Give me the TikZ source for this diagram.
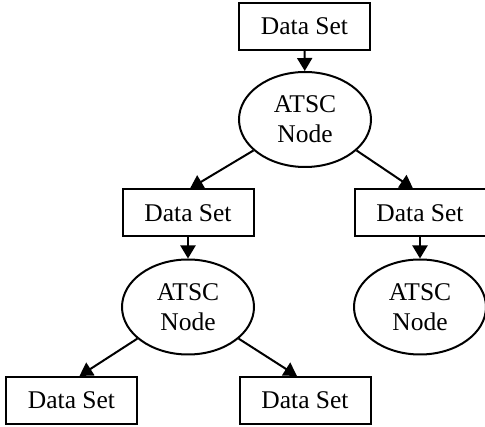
\documentclass[tikz,border=0pt]{standalone}
\usepackage{fontspec}
\setmainfont{Liberation Serif}
\usetikzlibrary{shapes.geometric,arrows.meta}
\begin{document}
\begin{tikzpicture}[x=1pt,y=-1pt,
  every node/.style={font=\fontsize{25.5}{30}\selectfont, line width=2pt, inner sep=0pt},
  dsbox/.style={draw, rectangle, minimum width=131pt, minimum height=47pt},
  atsc/.style={draw, ellipse, minimum width=132pt, minimum height=95pt, align=center},
  link/.style={line width=2pt, -{Triangle[length=13pt,width=15pt]}}]
\useasboundingbox (0,0) rectangle (485,427);
\node[dsbox] (b1) at (304.5,26.5) {Data Set};
\node[atsc] (e1) at (305,119.5) {ATSC\\Node};
\node[dsbox] (b2) at (188,213) {Data Set};
\node[dsbox] (b3) at (420,213) {Data Set};
\node[atsc] (e2) at (188,307) {ATSC\\Node};
\node[atsc] (e3) at (420,307) {ATSC\\Node};
\node[dsbox] (b4) at (71.5,400.5) {Data Set};
\node[dsbox] (b5) at (305,400.5) {Data Set};
\draw[link] (b1) -- (e1);
\draw[link] (e1.211) -- ([xshift=2pt]b2.north);
\draw[link] (e1.329) -- ([xshift=-7pt]b3.north);
\draw[link] (b2) -- (e2);
\draw[link] (b3) -- (e3);
\draw[link] (e2.212) -- ([xshift=8pt]b4.north);
\draw[link] (e2.328) -- ([xshift=-8pt]b5.north);
\end{tikzpicture}
\end{document}
